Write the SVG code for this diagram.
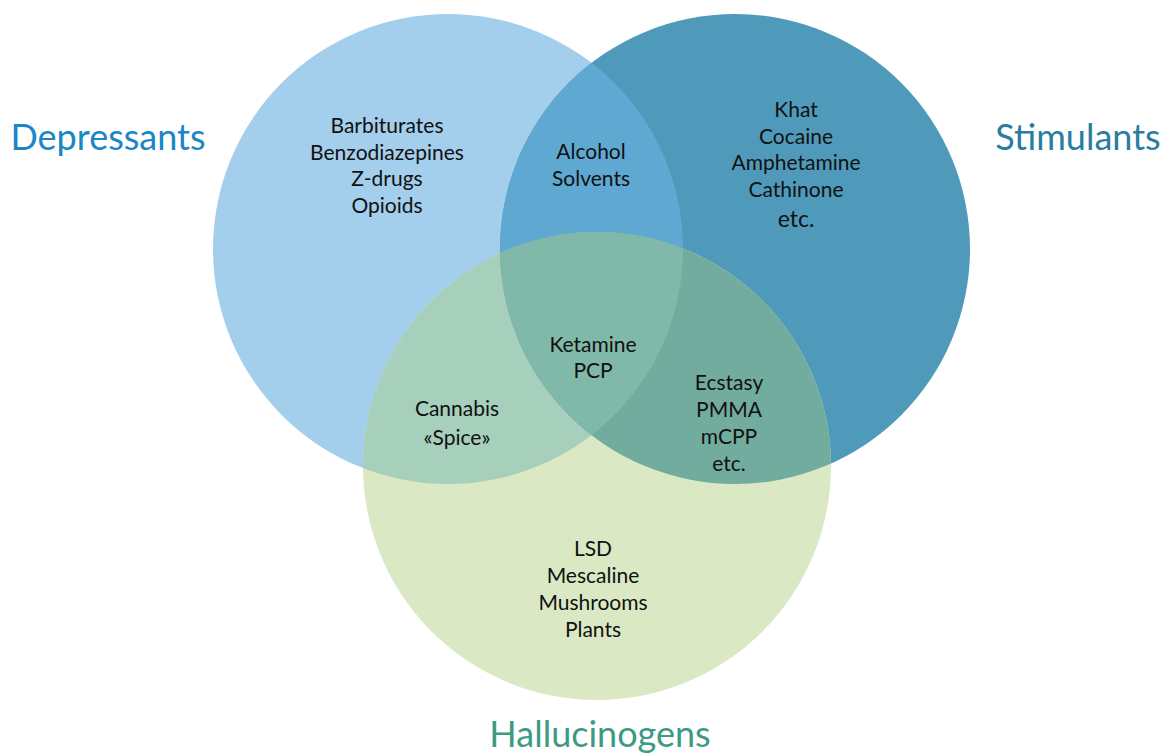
<svg xmlns="http://www.w3.org/2000/svg" width="1171" height="754" viewBox="0 0 1171 754">
<style>
.t{font-family:Lato,"Open Sans","Liberation Sans",sans-serif;font-size:21px;fill:#111;text-anchor:middle}
.h{font-family:Lato,"Open Sans","Liberation Sans",sans-serif;font-size:36px;text-anchor:middle}
</style>
<defs>
<clipPath id="cL"><circle cx="448" cy="249" r="235"/></clipPath>
<clipPath id="cR"><circle cx="735" cy="249" r="235"/></clipPath>
<clipPath id="cB"><circle cx="597" cy="466" r="234"/></clipPath>
</defs>
<rect width="1171" height="754" fill="#fff"/>
<g id="depressants">
<circle cx="448" cy="249" r="235" fill="#A3CEEC"/>
</g>
<g id="stimulants">
<circle cx="735" cy="249" r="235" fill="#4F9ABB"/>
</g>
<g id="hallucinogens">
<circle cx="597" cy="466" r="234" fill="#DAE8C4"/>
</g>
<g id="overlaps">
<circle cx="735" cy="249" r="235" fill="#5EA8D2" clip-path="url(#cL)"/>
<circle cx="597" cy="466" r="234" fill="#A6CFBC" clip-path="url(#cL)"/>
<circle cx="597" cy="466" r="234" fill="#72AC9E" clip-path="url(#cR)"/>
<g clip-path="url(#cL)"><circle cx="597" cy="466" r="234" fill="#80B8AA" clip-path="url(#cR)"/></g>
</g>
<g id="labels">
<text class="h" x="108" y="150" fill="#1A86C5">Depressants</text>
<text class="h" x="1078" y="150" fill="#2A7CA0">Stimulants</text>
<text class="h" x="600" y="747" fill="#3E9A84">Hallucinogens</text>
</g>
<g id="text-depressants">
<text class="t" x="387" y="133">Barbiturates</text>
<text class="t" x="387" y="160">Benzodiazepines</text>
<text class="t" x="387" y="186">Z-drugs</text>
<text class="t" x="387" y="213">Opioids</text>
</g>
<g id="text-dep-stim">
<text class="t" x="591" y="159">Alcohol</text>
<text class="t" x="591" y="186">Solvents</text>
</g>
<g id="text-stimulants">
<text class="t" x="796" y="117">Khat</text>
<text class="t" x="796" y="144">Cocaine</text>
<text class="t" x="796" y="170">Amphetamine</text>
<text class="t" x="796" y="197">Cathinone</text>
<text class="t" x="796" y="227" style="font-size:23px">etc.</text>
</g>
<g id="text-center">
<text class="t" x="593" y="352">Ketamine</text>
<text class="t" x="593" y="378">PCP</text>
</g>
<g id="text-dep-hall">
<text class="t" x="457" y="416">Cannabis</text>
<text class="t" x="457" y="445">«Spice»</text>
</g>
<g id="text-stim-hall">
<text class="t" x="729" y="390">Ecstasy</text>
<text class="t" x="729" y="417">PMMA</text>
<text class="t" x="729" y="444">mCPP</text>
<text class="t" x="729" y="471">etc.</text>
</g>
<g id="text-hallucinogens">
<text class="t" x="593" y="556">LSD</text>
<text class="t" x="593" y="583">Mescaline</text>
<text class="t" x="593" y="610">Mushrooms</text>
<text class="t" x="593" y="637">Plants</text>
</g>
</svg>
